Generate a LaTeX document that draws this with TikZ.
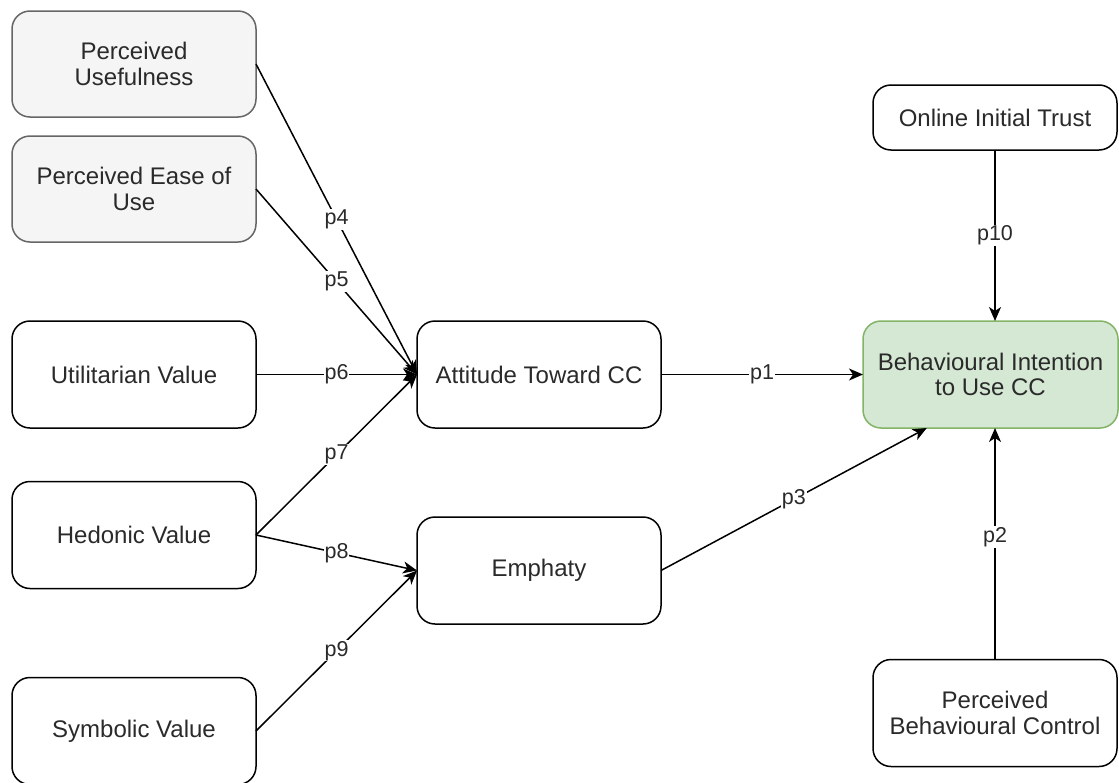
\documentclass[tikz,border=0pt]{standalone}
\usepackage{fontspec}
\setmainfont{Liberation Sans}
\usetikzlibrary{arrows.meta,calc}
\definecolor{grayfill}{HTML}{F5F5F5}
\definecolor{grayline}{HTML}{666666}
\definecolor{greenfill}{HTML}{D5E8D4}
\definecolor{greenline}{HTML}{82B366}
\definecolor{txt}{HTML}{2A2A2A}
\tikzset{
  box/.style={draw=black, fill=white, rounded corners=18pt, line width=1.5pt,
    minimum width=244pt, minimum height=107pt, inner sep=0pt, outer sep=0pt,
    align=center, text=txt, font=\fontsize{24}{25.5}\selectfont},
  graybox/.style={box, draw=grayline, fill=grayfill},
  greenbox/.style={box, draw=greenline, fill=greenfill},
  link/.style={draw=black, line width=1.5pt, -{Stealth[length=14pt,width=12pt,inset=4pt]}},
  lbl/.style={fill=white, inner sep=1pt, text=txt, font=\fontsize{21.5}{24}\selectfont}
}
\begin{document}
\begin{tikzpicture}[x=1pt,y=-1pt]
\useasboundingbox (0,0) rectangle (1119,782);
\node[graybox, minimum height=106pt] (pu) at (134,64) {Perceived\\Usefulness};
\node[graybox, minimum height=106pt] (peou) at (134,189) {Perceived Ease of\\Use};
\node[box] (uv) at (134,374.5) {Utilitarian Value};
\node[box] (hv) at (134,535) {Hedonic Value};
\node[box] (sv) at (134,731) {Symbolic Value};
\node[box] (att) at (539,374.5) {Attitude Toward CC};
\node[box] (emp) at (539,570.5) {Emphaty};
\node[box, minimum height=65pt] (oit) at (995,117.5) {Online Initial Trust};
\node[greenbox, minimum width=255pt] (bi) at (990.5,374.5) {Behavioural Intention\\to Use CC};
\node[box] (pbc) at (995,713) {Perceived\\Behavioural Control};
\coordinate (bip3) at ($(bi.south west)!0.25!(bi.south east)$);
\draw[link] (pu.east) -- node[lbl] {p4} (att.west);
\draw[link] (peou.east) -- node[lbl] {p5} (att.west);
\draw[link] (uv.east) -- node[lbl] {p6} (att.west);
\draw[link] (hv.east) -- node[lbl] {p7} (att.west);
\draw[link] (hv.east) -- node[lbl] {p8} (emp.west);
\draw[link] (sv.east) -- node[lbl] {p9} (emp.west);
\draw[link] (att.east) -- node[lbl] {p1} (bi.west);
\draw[link] (emp.east) -- node[lbl] {p3} (bip3);
\draw[link] (oit.south) -- node[lbl] {p10} (oit.south |- bi.north);
\draw[link] (pbc.north) -- node[lbl, pos=0.53] {p2} (pbc.north |- bi.south);
\end{tikzpicture}
\end{document}
